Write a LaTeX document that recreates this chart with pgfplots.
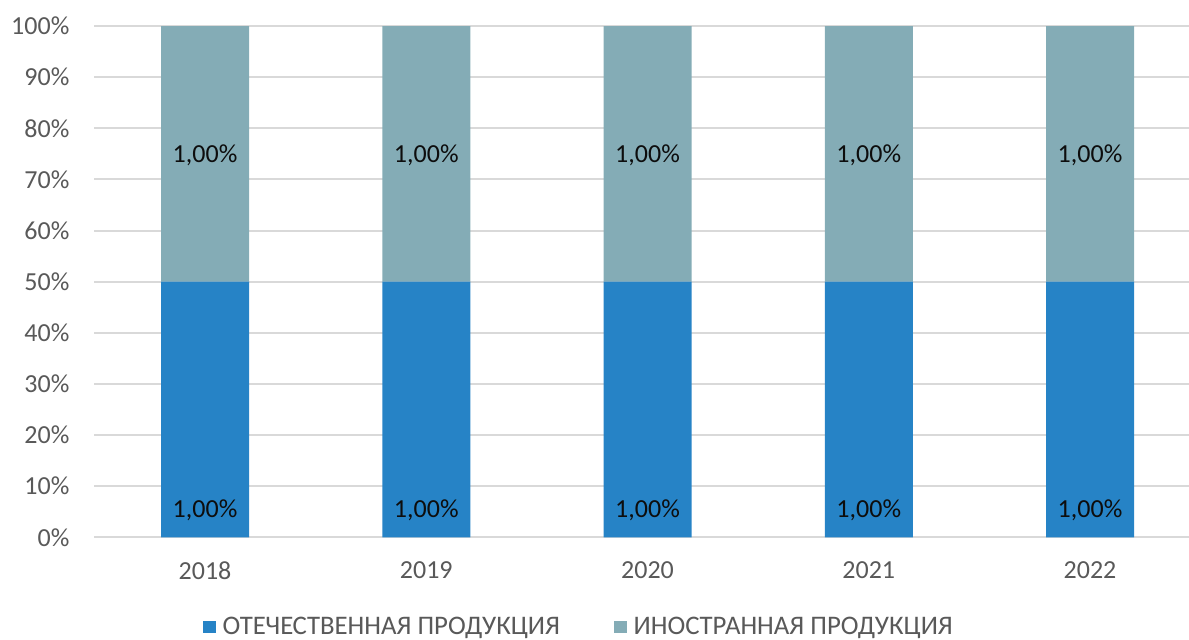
\documentclass[border=0pt]{standalone}
\usepackage{pgfplots}
\pgfplotsset{compat=1.18}
\usepackage{fontspec}
\setmainfont{Carlito}
\definecolor{cblue}{HTML}{2683C6}
\definecolor{cteal}{HTML}{84ACB6}
\definecolor{cgrid}{HTML}{D9D9D9}
\definecolor{ctick}{HTML}{595959}
\pgfplotsset{common/.style={
  at={(0,0)}, anchor=south west,
  x=110.625pt, y=2.5565pt,
  xmin=-0.5, xmax=4.447,
  ymin=0, ymax=100,
}}
\begin{document}
\begin{tikzpicture}
\begin{axis}[
  common,
  name=ax,
  ybar stacked,
  bar width=44pt,
  axis line style={draw=none},
  major tick length=0pt,
  ymajorgrids,
  grid style={cgrid, line width=1pt},
  xtick={0,1,2,3,4},
  xticklabels={2018,2019,2020,2021,2022},
  ytick={0,10,...,100},
  yticklabel={\pgfmathprintnumber{\tick}\%},
  /pgf/number format/assume math mode=true,
  ticklabel style={font=\fontsize{13pt}{15pt}\selectfont, text=ctick},
  yticklabel style={xshift=-9pt},
  xticklabel style={yshift=-8.5pt},
  legend columns=2,
  legend style={draw=none, at={(0.4436,-0.176)}, anchor=center,
    font=\fontsize{13.4pt}{15pt}\selectfont, text=ctick,
    /tikz/every odd column/.append style={column sep=1.5pt},
    /tikz/every even column/.append style={column sep=25pt}},
  legend image code/.code={\fill[#1] (0pt,-3pt) rectangle (6.3pt,3.3pt);},
]
\addplot[fill=cblue, draw=none] coordinates {(0,50) (1,50) (2,50) (3,50) (4,50)};
\addplot[fill=cteal, draw=none] coordinates {(0,50) (1,50) (2,50) (3,50) (4,50)};
\legend{ОТЕЧЕСТВЕННАЯ ПРОДУКЦИЯ, ИНОСТРАННАЯ ПРОДУКЦИЯ}
\end{axis}
\begin{axis}[
  common,
  axis lines=none,
  ticks=none,
  nodes near coords={1,00\%},
  every node near coord/.append style={font=\fontsize{13pt}{15pt}\selectfont, text=black!95, anchor=center},
]
\addplot[draw=none, mark=none] coordinates {(0,5.3) (1,5.3) (2,5.3) (3,5.3) (4,5.3)};
\addplot[draw=none, mark=none] coordinates {(0,74.8) (1,74.8) (2,74.8) (3,74.8) (4,74.8)};
\end{axis}
\pgfresetboundingbox
\path[use as bounding box] (ax.south west) ++(-47.2pt,-50.85pt) rectangle ([shift={(547.3pt,268.65pt)}]ax.south west);
\end{tikzpicture}
\end{document}
